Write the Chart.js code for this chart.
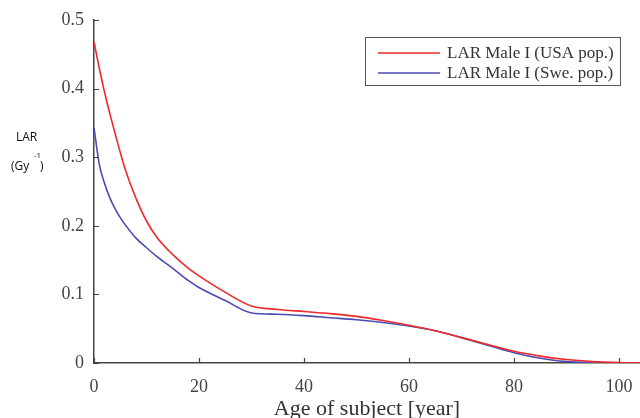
<!DOCTYPE html>
<html>
<head>
<meta charset="utf-8">
<script src="https://cdn.jsdelivr.net/npm/chart.js@4.4.0/dist/chart.umd.min.js"></script>
<style>
  html, body { margin: 0; padding: 0; background: #fff; }
  #wrap { width: 640px; height: 418px; position: relative; }
</style>
</head>
<body>
<div id="wrap"><canvas id="c"></canvas></div>
<script>
// LAR vs age of subject
var ages = [0, 1, 2, 3, 4, 5, 6, 8, 10, 12, 15, 18, 20, 25, 30, 35, 40, 45, 50, 55, 60, 65, 70, 75, 80, 85, 90, 95, 100, 104];
var larUsa = [0.468, 0.430, 0.395, 0.364, 0.335, 0.307, 0.281, 0.240, 0.207, 0.183, 0.158, 0.138, 0.127, 0.103, 0.083, 0.078, 0.075, 0.072, 0.068, 0.062, 0.055, 0.047, 0.037, 0.027, 0.017, 0.010, 0.005, 0.002, 0.0005, 0];
var larSwe = [0.343, 0.290, 0.262, 0.241, 0.225, 0.212, 0.201, 0.182, 0.168, 0.155, 0.138, 0.120, 0.110, 0.091, 0.073, 0.071, 0.069, 0.066, 0.063, 0.059, 0.054, 0.047, 0.037, 0.026, 0.015, 0.007, 0.002, 0.0005, 0.0002, 0];
var seriesNames = ['LAR Male I (USA pop.)', 'LAR Male I (Swe. pop.)'];
var yTicks = [0, 0.1, 0.2, 0.3, 0.4, 0.5];
var xTicks = [0, 20, 40, 60, 80, 100];

function pts(ys) {
  return ages.map(function(a, i) { return { x: a, y: ys[i] }; });
}

var serif = '"Liberation Serif", "Times New Roman", serif';
var sans = '"Open Sans", Lato, sans-serif';

// inward tick marks, axis title, y label and boxed legend
var decor = {
  id: 'decor',
  afterDraw: function(chart) {
    var ctx = chart.ctx;
    var xs = chart.scales.x, ys = chart.scales.y;
    var area = chart.chartArea;
    ctx.save();
    ctx.strokeStyle = '#444';
    ctx.lineWidth = 1.2;
    ctx.beginPath();
    xTicks.forEach(function(v) {
      var px = Math.round(xs.getPixelForValue(v)) + 0.5;
      ctx.moveTo(px, area.bottom);
      ctx.lineTo(px, area.bottom - 5);
    });
    yTicks.forEach(function(v) {
      var py = Math.round(ys.getPixelForValue(v)) + 0.5;
      ctx.moveTo(area.left, py);
      ctx.lineTo(area.left + 5, py);
    });
    ctx.stroke();

    // x axis title
    ctx.fillStyle = '#333';
    ctx.font = '22px ' + serif;
    ctx.textAlign = 'center';
    ctx.textBaseline = 'alphabetic';
    ctx.fillText('Age of subject [year]', (area.left + area.right) / 2, 415);

    // y label, horizontal
    ctx.fillStyle = '#111';
    ctx.font = '12px ' + sans;
    ctx.textAlign = 'left';
    ctx.textBaseline = 'middle';
    ctx.fillText('LAR', 16, 138);
    ctx.fillText('(Gy', 11, 167);
    ctx.fillText(')', 40, 167);
    ctx.font = '8px ' + sans;
    ctx.fillText('-1', 34, 156);

    // legend box
    var bx = 365, by = 37, bw = 255, bh = 48;
    ctx.fillStyle = '#fff';
    ctx.fillRect(bx, by, bw, bh);
    ctx.strokeStyle = '#555';
    ctx.lineWidth = 1;
    ctx.strokeRect(bx + 0.5, by + 0.5, bw, bh);
    ctx.font = '17px ' + serif;
    ctx.textBaseline = 'middle';
    chart.data.datasets.forEach(function(ds, i) {
      var ry = 53 + i * 20;
      ctx.strokeStyle = ds.borderColor;
      ctx.lineWidth = 1.5;
      ctx.beginPath();
      ctx.moveTo(378, ry);
      ctx.lineTo(440, ry);
      ctx.stroke();
      ctx.fillStyle = '#333';
      ctx.fillText(ds.label, 447, ry + 1);
    });
    ctx.restore();
  }
};

new Chart(document.getElementById('c'), {
  type: 'line',
  data: {
    datasets: [
      {
        label: seriesNames[0],
        data: pts(larUsa),
        borderColor: '#ee2a2a',
        borderWidth: 1.6,
        pointRadius: 0,
        cubicInterpolationMode: 'monotone'
      },
      {
        label: seriesNames[1],
        data: pts(larSwe),
        borderColor: '#4a4cb0',
        borderWidth: 1.6,
        pointRadius: 0,
        cubicInterpolationMode: 'monotone'
      }
    ]
  },
  options: {
    responsive: true,
    maintainAspectRatio: false,
    animation: false,
    layout: { padding: { top: 20, right: 0, left: 0, bottom: 0 } },
    plugins: {
      legend: { display: false },
      tooltip: { enabled: false }
    },
    scales: {
      x: {
        type: 'linear',
        min: 0,
        max: 104,
        afterFit: function(s) { s.height = 55; s.paddingLeft = 0; s.paddingRight = 0; },
        afterBuildTicks: function(s) { s.ticks = xTicks.map(function(v) { return { value: v }; }); },
        ticks: {
          includeBounds: false,
          padding: 13,
          color: '#444',
          font: { family: serif, size: 18 },
          maxRotation: 0
        },
        grid: { display: false, drawTicks: false },
        border: { display: true, color: '#444', width: 1.5 }
      },
      y: {
        min: 0,
        max: 0.5,
        afterFit: function(s) { s.width = 94; s.paddingTop = 0; s.paddingBottom = 0; },
        afterBuildTicks: function(s) { s.ticks = yTicks.map(function(v) { return { value: v }; }); },
        ticks: {
          padding: 10,
          color: '#444',
          font: { family: serif, size: 18 },
          callback: function(v) { return v === 0 ? '0' : v.toFixed(1); }
        },
        grid: { display: false, drawTicks: false },
        border: { display: true, color: '#444', width: 1.5 }
      }
    }
  },
  plugins: [decor]
});
</script>
</body>
</html>
